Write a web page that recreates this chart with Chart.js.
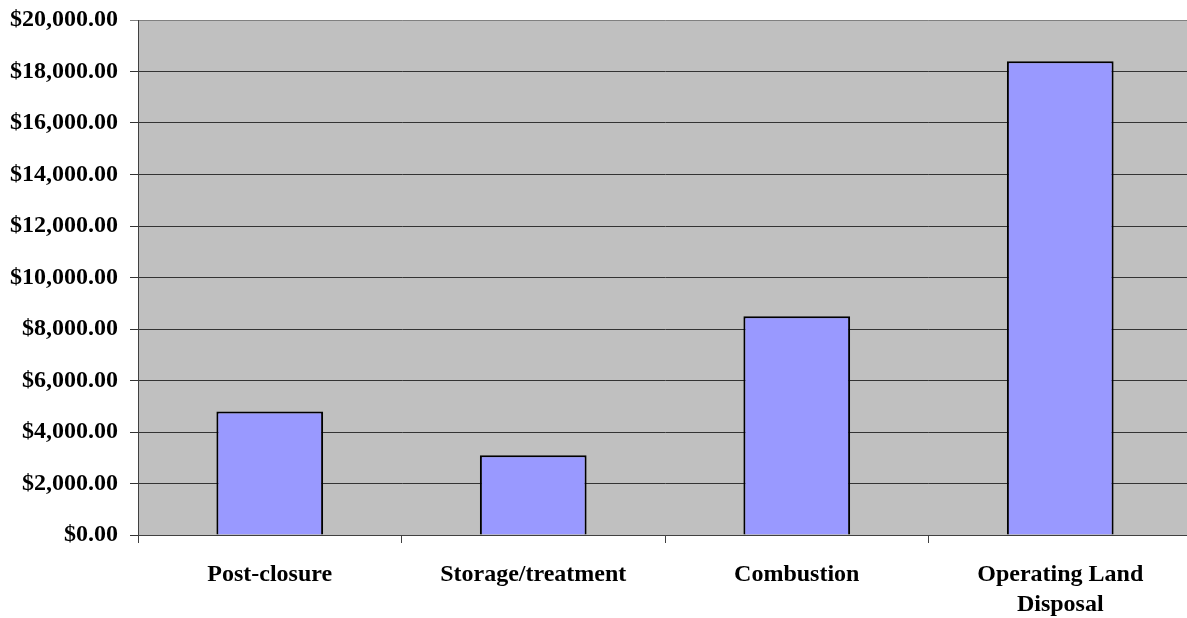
<!DOCTYPE html>
<html>
<head>
<meta charset="utf-8">
<script src="https://cdn.jsdelivr.net/npm/chart.js@4/dist/chart.umd.min.js"></script>
<style>
  body { margin: 0; background: #fff; overflow: hidden; }
  /* plot area runs slightly past the right edge in the original */
  #wrap { width: 1192px; height: 618px; }
</style>
</head>
<body>
<div id="wrap"><canvas id="cost_chart"></canvas></div>
<script>
// categories and values
const categories = ["Post-closure", "Storage/treatment", "Combustion", ["Operating Land", "Disposal"]];
const costs = [4800, 3100, 8500, 18400];
const yMax = 20000;
const yStep = 2000;

// grey plot area like the old spreadsheet charts
const plotBackground = {
  id: "plotBackground",
  beforeDraw(chart) {
    const { ctx, chartArea } = chart;
    ctx.save();
    ctx.fillStyle = "#c0c0c0";
    ctx.fillRect(chartArea.left, chartArea.top, chartArea.right - chartArea.left, chartArea.bottom - chartArea.top);
    ctx.restore();
  }
};

function money(value) {
  return "$" + Number(value).toLocaleString("en-US", { minimumFractionDigits: 2, maximumFractionDigits: 2 });
}

const labelFont = { family: "'Liberation Serif', 'Times New Roman', serif", size: 24, weight: "bold", lineHeight: 1.25 };

new Chart("cost_chart", {
  type: "bar",
  data: {
    labels: categories,
    datasets: [{
      data: costs,
      backgroundColor: "#9999ff",
      borderColor: "#000000",
      borderWidth: 2,
      barPercentage: 0.405,
      categoryPercentage: 1.0
    }]
  },
  plugins: [plotBackground],
  options: {
    responsive: true,
    maintainAspectRatio: false,
    animation: false,
    layout: { padding: { top: 20, right: 0, left: 0, bottom: 0 } },
    plugins: {
      legend: { display: false },
      tooltip: { enabled: false }
    },
    scales: {
      x: {
        offset: true,
        grid: {
          offset: true,
          drawOnChartArea: false,
          drawTicks: true,
          tickLength: 8,
          color: "#404040"
        },
        border: { display: true, color: "#404040", width: 1 },
        ticks: {
          color: "#000",
          font: labelFont,
          padding: 17,
          maxRotation: 0,
          autoSkip: false
        },
        afterFit(scale) { scale.height = 83; }
      },
      y: {
        min: 0,
        max: yMax,
        ticks: {
          stepSize: yStep,
          color: "#000",
          font: labelFont,
          padding: 12,
          callback: (value) => money(value)
        },
        grid: {
          color: (c) => c.tick && c.tick.value === yMax ? "#808080" : "#333333",
          lineWidth: 1,
          tickLength: 8
        },
        border: { display: true, color: "#404040", width: 1 },
        afterFit(scale) {
          scale.width = 138;
          scale.paddingTop = 0;
          scale.paddingBottom = 0;
        }
      }
    }
  }
});
</script>
</body>
</html>
